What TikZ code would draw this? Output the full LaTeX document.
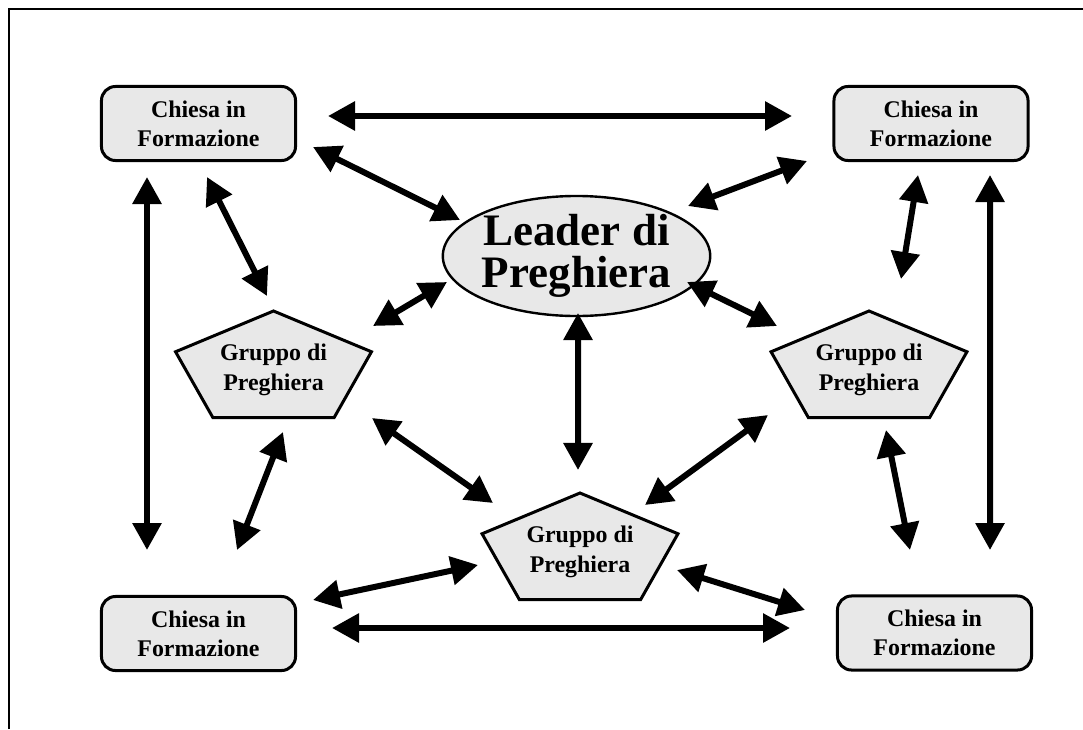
\documentclass[tikz,border=0pt]{standalone}
\usepackage{fontspec}
\setmainfont{Liberation Serif}
\usetikzlibrary{calc,shapes.geometric,arrows.meta}

\definecolor{grigio}{HTML}{E8E8E8}

\tikzset{
  chiesa/.style={draw, line width=0.075cm, rounded corners=0.35cm, fill=grigio,
    minimum width=4.85cm, minimum height=1.85cm, align=center,
    font=\bfseries\fontsize{17}{20.6}\selectfont},
  leader/.style={ellipse, draw, line width=0.06cm, fill=grigio, inner sep=0pt,
    minimum width=5.525cm, minimum height=3cm, align=center,
    font=\bfseries\fontsize{32}{29.9}\selectfont},
  gruppo/.style={inner sep=0pt, align=center,
    font=\bfseries\fontsize{17}{21.3}\selectfont},
  pent/.style={draw, line width=0.075cm, fill=grigio},
  freccia/.style={line width=0.15cm,
    {Triangle[length=0.675cm,width=0.7cm]}-{Triangle[length=0.675cm,width=0.7cm]}}
}

\begin{document}
\begin{tikzpicture}[x=0.025cm, y=-0.025cm]
				\useasboundingbox (0,0) rectangle (1083,729);
				\draw[line width=0.05cm] (9,729) -- (9,9) -- (1083,9);
				
				\node[chiesa] (tl) at (198.5,123.5) {Chiesa in\\Formazione};
				\node[chiesa] (tr) at (931,123.5) {Chiesa in\\Formazione};
				\node[chiesa] (bl) at (198.5,633.5) {Chiesa in\\Formazione};
				\node[chiesa] (br) at (934.5,633) {Chiesa in\\Formazione};
				
				\node[leader] (ld) at (576.5,256) {Leader di\\Preghiera};
				
				\foreach \nome/\pos in {gl/{273.5,370}, gr/{869,370}, gb/{580,552}} {
					\draw[pent] ($(\pos)+(-90:103 and 59)$)
						\foreach \a in {-18,54,126,198} {-- ($(\pos)+(\a:103 and 59)$)} -- cycle;
					\node[gruppo] (\nome) at (\pos) {Gruppo di\\Preghiera};
				}
				
				\draw[freccia] ($(tl)+(129.5,-7.5)$) -- ($(tr)+(-139,-7.5)$);
				\draw[freccia] ($(bl)+(133.5,-5.5)$) -- ($(br)+(-144.5,-5)$);
				\draw[freccia] ($(tl)+(-51.5,53.5)$) -- ($(bl)+(-51.5,-83.5)$);
				\draw[freccia] ($(tr)+(59,51.5)$) -- ($(br)+(55.5,-83)$);
				
				\draw[freccia] ($(tl)+(114.5,23.5)$) -- ($(ld)+(-116.5,-36)$);
				\draw[freccia] ($(tr)+(-124,37.5)$) -- ($(ld)+(111.5,-50)$);
				\draw[freccia] ($(tl)+(8.5,53.5)$) -- ($(gl)+(-6.5,-74)$);
				\draw[freccia] ($(tr)+(-13,51.5)$) -- ($(gr)+(32,-91)$);
				
				\draw[freccia] ($(ld)+(-129.5,26)$) -- ($(gl)+(99.5,-44)$);
				\draw[freccia] ($(ld)+(110.5,26)$) -- ($(gr)+(-92,-44)$);
				\draw[freccia] ($(ld)+(1.5,57)$) -- ($(gb)+(-2,-82)$);
				
				\draw[freccia] ($(gl)+(98.5,48)$) -- ($(gb)+(-87,-49)$);
				\draw[freccia] ($(gr)+(-101,45)$) -- ($(gb)+(65,-47)$);
				\draw[freccia] ($(gl)+(9.5,62)$) -- ($(bl)+(38.5,-83.5)$);
				\draw[freccia] ($(gr)+(17,60)$) -- ($(br)+(-24.5,-83)$);
				
				\draw[freccia] ($(bl)+(114.5,-33.5)$) -- ($(gb)+(-102,13)$);
				\draw[freccia] ($(br)+(-129.5,-23)$) -- ($(gb)+(97,18)$);
\end{tikzpicture}
\end{document}
